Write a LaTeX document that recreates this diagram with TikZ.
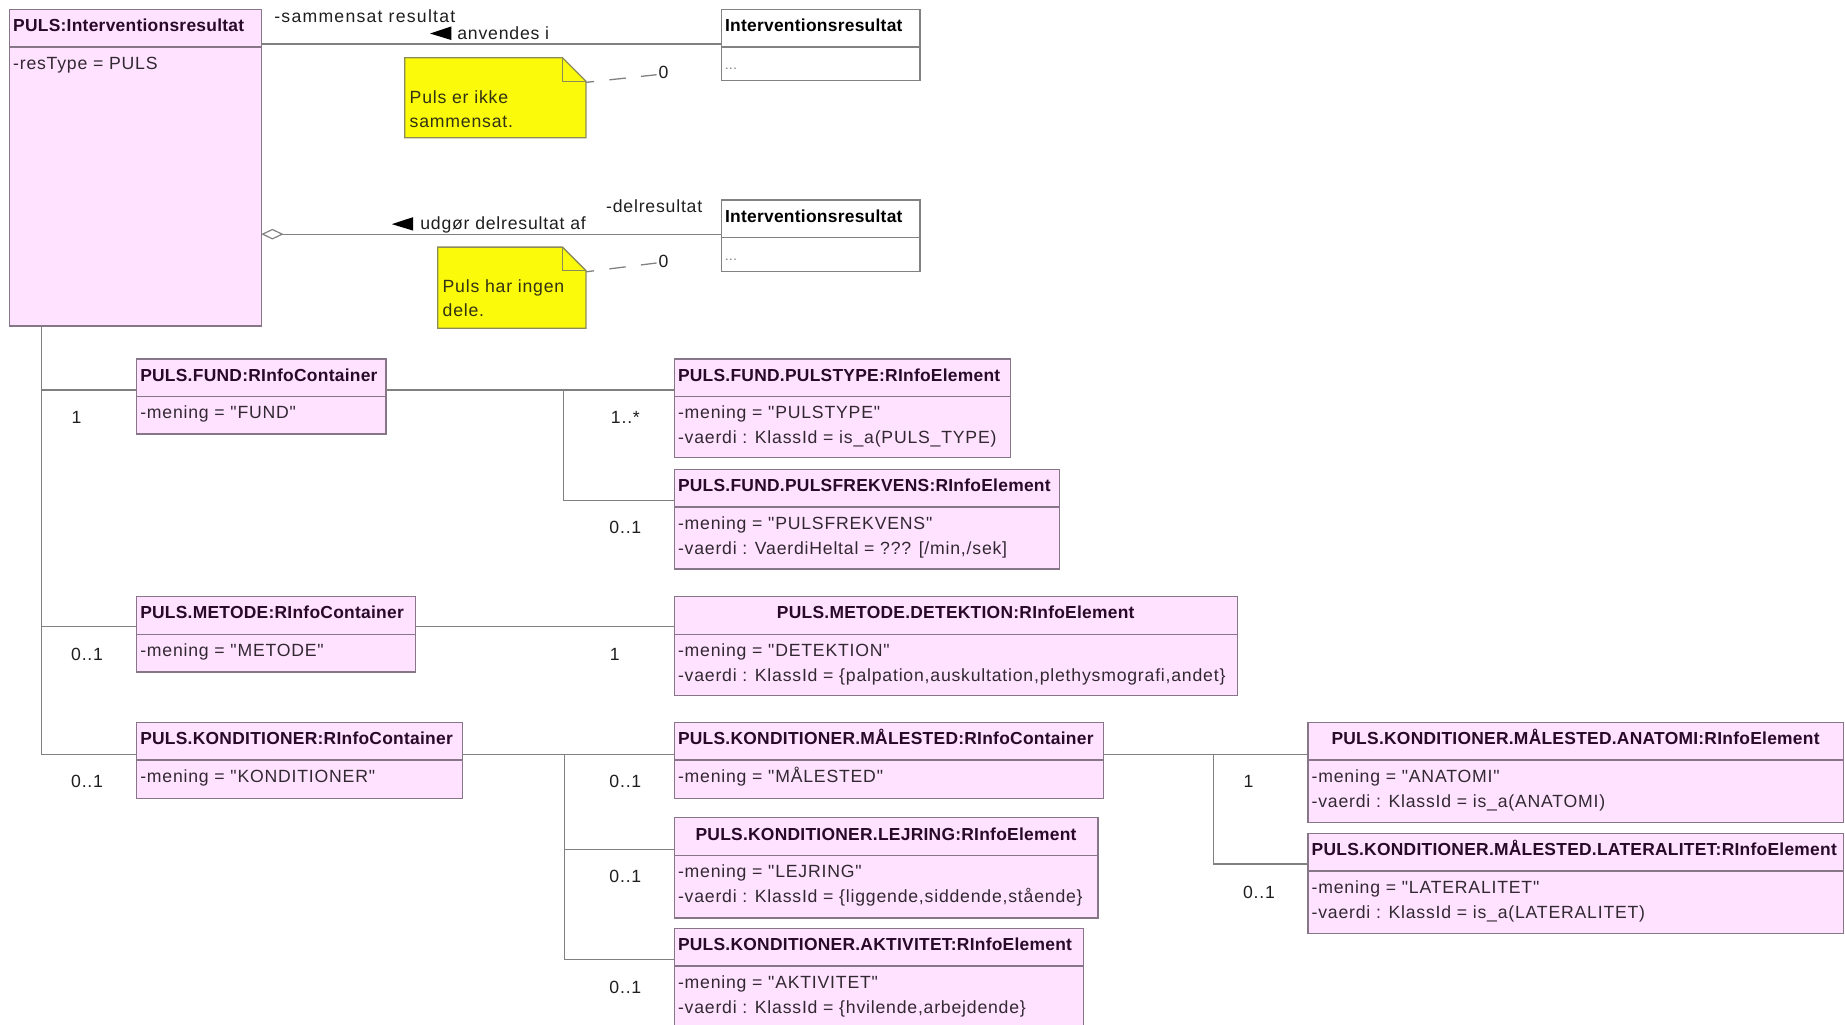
\documentclass[tikz,border=0pt]{standalone}
\usepackage{fontspec}
\setmainfont{Liberation Sans}
\newfontfamily\uf[LetterSpace=4.5]{Liberation Sans}
\newfontfamily\lf[LetterSpace=7]{Liberation Sans}
\newfontfamily\tf[LetterSpace=1.5]{Liberation Sans}
\usetikzlibrary{arrows.meta,calc}
\definecolor{pinkfill}{RGB}{255,226,255}
\definecolor{pinkdraw}{RGB}{135,118,135}
\definecolor{boxgray}{RGB}{130,130,130}
\definecolor{titlecol}{RGB}{40,10,40}
\definecolor{bodycol}{RGB}{50,40,50}
\definecolor{lblcol}{RGB}{30,30,30}
\definecolor{linecol}{RGB}{128,128,128}
\definecolor{notefill}{RGB}{250,250,10}
\definecolor{notedraw}{RGB}{140,140,90}
\definecolor{notetext}{RGB}{50,50,20}
\tikzset{
  ubox/.style={draw=pinkdraw, fill=pinkfill, line width=1.2pt, rectangle, inner sep=0pt, outer sep=0pt},
  wbox/.style={draw=boxgray, fill=white, line width=1.2pt, rectangle, inner sep=0pt, outer sep=0pt},
  ttl/.style={font=\tf\bfseries\fontsize{14.8}{18}\selectfont, text=titlecol, inner sep=0pt},
  bdy/.style={font=\uf\fontsize{15}{21}\selectfont, text=bodycol, inner sep=0pt},
  lbl/.style={font=\uf\fontsize{15}{18}\selectfont, text=lblcol, inner sep=0pt},
  rlbl/.style={font=\lf\fontsize{15}{18}\selectfont, text=lblcol, inner sep=0pt},
  conn/.style={draw=linecol, line width=1.1pt},
  notebg/.style={fill=notefill, draw=notedraw, line width=1.1pt},
  notelink/.style={draw=linecol, line width=1.1pt, dash pattern=on 14pt off 13pt, dash phase=7pt},
  ntxt/.style={font=\uf\fontsize{15}{20}\selectfont, text=notetext, inner sep=0pt},
  tri/.style={fill=black},
}
% #1 align (L/C), #2 name, #3 x, #4 y, #5 w, #6 h, #7 style, #8 title, #9 body
\newcommand\uclass[9][L]{%
  \node[#7, minimum width=#5pt, minimum height=#6pt, anchor=north west] (#2) at (#3,#4) {};
  \draw[#7] ($(#2.north west)+(0,32)$) -- ($(#2.north east)+(0,32)$);
  \if#1C
    \node[ttl, anchor=base] (#2-t) at ($(#2.north)+(0,19)$) {#8};
  \else
    \node[ttl, anchor=base west] (#2-t) at ($(#2.north west)+(3,19)$) {#8};
  \fi
  \node[bdy, anchor=base west] (#2-b) at ($(#2.north west)+(3,51)$) {\begin{tabular}[t]{@{}l@{}}#9\end{tabular}};
}
% #1 name, #2 x, #3 y, #4 w, #5 h, #6 text
\newcommand\unote[6]{%
  \node[minimum width=#4pt, minimum height=#5pt, anchor=north west, inner sep=0pt, outer sep=0pt] (#1) at (#2,#3) {};
  \draw[notebg] (#1.north west) -- ($(#1.north east)+(-20,0)$) -- ($(#1.north east)+(0,20)$) -- (#1.south east) -- (#1.south west) -- cycle;
  \draw[notebg, fill=none] ($(#1.north east)+(-20,0)$) -- ($(#1.north east)+(-20,20)$) -- ($(#1.north east)+(0,20)$);
  \node[ntxt, anchor=base west] (#1-t) at ($(#1.north west)+(4,39)$) {\begin{tabular}[t]{@{}l@{}}#6\end{tabular}};
}
\begin{document}
\begin{tikzpicture}[x=1pt, y=-1pt]
\useasboundingbox (0,0) rectangle (1568,871);
\clip (0,0) rectangle (1568,871);

% ---------- classes ----------
\uclass{M}{8}{8}{214}{269}{ubox}{PULS:Interventionsresultat}{-resType = PULS}
\uclass{I1}{613}{8}{169}{60.5}{wbox}{\textcolor{black}{Interventionsresultat}}{{\fontsize{11}{21}\selectfont\textcolor{black!55}{...}}}
\uclass{I2}{613}{170}{169}{60.5}{wbox}{\textcolor{black}{Interventionsresultat}}{{\fontsize{11}{21}\selectfont\textcolor{black!55}{...}}}

\uclass{FUND}{116}{305}{212}{64}{ubox}{PULS.FUND:RInfoContainer}{-mening = "FUND"}
\uclass{PT}{573}{305}{286}{84}{ubox}{PULS.FUND.PULSTYPE:RInfoElement}{-mening = "PULSTYPE"\\-vaerdi : KlassId = is\_a(PULS\_TYPE)}
\uclass{PF}{573}{399}{327.5}{84.5}{ubox}{PULS.FUND.PULSFREKVENS:RInfoElement}{-mening = "PULSFREKVENS"\\-vaerdi : VaerdiHeltal = ??? [/min,/sek]}

\uclass{MET}{116}{507}{237}{64}{ubox}{PULS.METODE:RInfoContainer}{-mening = "METODE"}
\uclass[C]{DET}{573}{507}{478.5}{84}{ubox}{PULS.METODE.DETEKTION:RInfoElement}{-mening = "DETEKTION"\\-vaerdi : KlassId = \{palpation,auskultation,plethysmografi,andet\}}

\uclass{K}{116}{614}{277}{64.5}{ubox}{PULS.KONDITIONER:RInfoContainer}{-mening = "KONDITIONER"}
\uclass{MAL}{573}{614}{365}{64.5}{ubox}{PULS.KONDITIONER.MÅLESTED:RInfoContainer}{-mening = "MÅLESTED"}
\uclass[C]{LEJ}{573}{695}{360}{85}{ubox}{PULS.KONDITIONER.LEJRING:RInfoElement}{-mening = "LEJRING"\\-vaerdi : KlassId = \{liggende,siddende,stående\}}
\uclass{AKT}{573}{789}{348}{100}{ubox}{PULS.KONDITIONER.AKTIVITET:RInfoElement}{-mening = "AKTIVITET"\\-vaerdi : KlassId = \{hvilende,arbejdende\}}

\uclass[C]{ANA}{1111.5}{614}{455}{85}{ubox}{PULS.KONDITIONER.MÅLESTED.ANATOMI:RInfoElement}{-mening = "ANATOMI"\\-vaerdi : KlassId = is\_a(ANATOMI)}
\uclass{LAT}{1111.5}{708.3}{455}{85}{ubox}{PULS.KONDITIONER.MÅLESTED.LATERALITET:RInfoElement}{-mening = "LATERALITET"\\-vaerdi : KlassId = is\_a(LATERALITET)}

% ---------- notes ----------
\unote{N1}{344}{49}{154}{68}{Puls er ikke\\sammensat.}
\unote{N2}{372}{210}{126}{69}{Puls har ingen\\dele.}

\coordinate (z1) at (558,63.5);
\coordinate (z2) at (558,223.5);
\draw[notelink] ($(N1.north east)+(0,21)$) -- (z1);
\draw[notelink] ($(N2.north east)+(0,21)$) -- (z2);
\node[lbl, anchor=west] (z1t) at (559.5,61.5) {0};
\node[lbl, anchor=west] (z2t) at (559.5,222) {0};

% ---------- associations to Interventionsresultat ----------
\draw[conn] ($(M.north east)+(0,29.5)$) -- ($(I1.north west)+(0,29.5)$);
\node[rlbl, anchor=base west] (r1) at (233,19) {-sammensat resultat};
\fill[tri] (383.5,22.5) -- (365.5,28.5) -- (383.5,34) -- cycle;
\node[lbl, anchor=base west] (r2) at (388.5,33.4) {anvendes i};

\draw[conn, -{Diamond[open, length=19pt, width=9pt, line width=1pt]}] ($(I2.north west)+(0,29)$) -- ($(M.north east)+(0,191)$);
\fill[tri] (351.2,184.5) -- (333,190.5) -- (351.2,196) -- cycle;
\node[lbl, anchor=base west] (r3) at (357,195) {udgør delresultat af};
\node[lbl, anchor=base west] (r4) at (515,181) {-delresultat};

% ---------- trunk ----------
\coordinate (tr) at ($(M.south west)+(27,0)$);
\draw[conn] ($(K.north west)+(0,27)$) -| (tr);
\draw[conn] ($(MET.north west)+(0,25.6)$) -| (tr);
\draw[conn] ($(FUND.north west)+(0,26.5)$) -| (tr);
\node[lbl] (m1) at (65,354.5) {1};
\node[lbl] (m2) at (74,556.5) {0..1};
\node[lbl] (m3) at (74,664) {0..1};

% ---------- FUND ----------
\coordinate (b1) at ($(FUND.north east)+(151,26.5)$);
\draw[conn] ($(FUND.north east)+(0,26.5)$) -- ($(PT.north west)+(0,26.5)$);
\draw[conn] ($(PF.north west)+(0,26.5)$) -| (b1);
\node[lbl] (m4) at (531.5,355) {1..*};
\node[lbl] (m5) at (531.5,448.5) {0..1};

% ---------- METODE ----------
\draw[conn] ($(MET.north east)+(0,25.6)$) -- ($(DET.north west)+(0,25.6)$);
\node[lbl] (m6) at (522.5,556.5) {1};

% ---------- KONDITIONER ----------
\coordinate (b2) at ($(K.north east)+(87,27)$);
\draw[conn] ($(K.north east)+(0,27)$) -- ($(MAL.north west)+(0,27)$);
\draw[conn] ($(LEJ.north west)+(0,27)$) -| (b2);
\draw[conn] ($(AKT.north west)+(0,26.5)$) -| (b2);
\node[lbl] (m7) at (531.5,664) {0..1};
\node[lbl] (m8) at (531.5,745) {0..1};
\node[lbl] (m9) at (531.5,839) {0..1};

% ---------- MÅLESTED ----------
\coordinate (b3) at ($(MAL.north east)+(93,27)$);
\draw[conn] ($(MAL.north east)+(0,27)$) -- ($(ANA.north west)+(0,27)$);
\draw[conn] ($(LAT.north west)+(0,26)$) -| (b3);
\node[lbl] (m10) at (1061,664.5) {1};
\node[lbl] (m11) at (1070,758.5) {0..1};
\end{tikzpicture}
\end{document}
